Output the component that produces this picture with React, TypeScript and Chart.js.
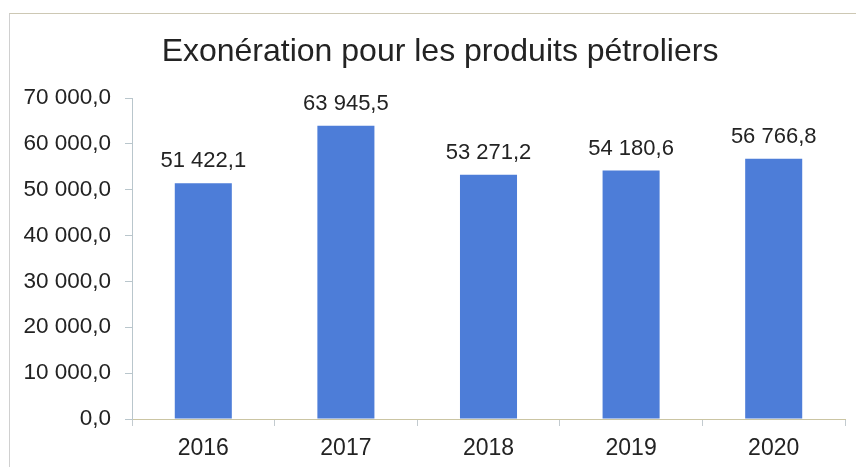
import React, { useEffect, useRef } from "react";
import { Chart, registerables } from "chart.js";

Chart.register(...registerables);

const TITLE = "Exonération pour les produits pétroliers";
const CATEGORIES = ["2016", "2017", "2018", "2019", "2020"];
const VALUES = [51422.1, 63945.5, 53271.2, 54180.6, 56766.8];
const Y_MIN = 0;
const Y_MAX = 70000;
const Y_STEP = 10000;

const FONT = "'Liberation Sans', Arial, sans-serif";
const TEXT = "#232323";
const BAR = "#4d7dd8";

function frNumber(v: number): string {
  const fixed = Math.abs(v).toFixed(1);
  const [intPart, dec] = fixed.split(".");
  const grouped = intPart.replace(/\B(?=(\d{3})+(?!\d))/g, " ");
  return (v < 0 ? "-" : "") + grouped + "," + dec;
}

const dataLabels = {
  id: "dataLabels",
  afterDatasetsDraw(chart: any) {
    const ctx = chart.ctx;
    const meta = chart.getDatasetMeta(0);
    ctx.save();
    ctx.font = `22px ${FONT}`;
    ctx.fillStyle = TEXT;
    ctx.textAlign = "center";
    ctx.textBaseline = "alphabetic";
    meta.data.forEach((el: any, i: number) => {
      ctx.fillText(frNumber(VALUES[i]), el.x, el.y - 16);
    });
    ctx.restore();
  },
};

const chartTitle = {
  id: "chartTitle",
  afterDraw(chart: any) {
    const ctx = chart.ctx;
    ctx.save();
    ctx.font = `32px ${FONT}`;
    ctx.fillStyle = TEXT;
    ctx.textAlign = "center";
    ctx.textBaseline = "alphabetic";
    ctx.fillText(TITLE, 440, 61);
    ctx.restore();
  },
};

export default function App() {
  const ref = useRef<HTMLCanvasElement | null>(null);

  useEffect(() => {
    if (!ref.current) return;
    const chart = new Chart(ref.current, {
      type: "bar",
      data: {
        labels: CATEGORIES,
        datasets: [
          {
            data: VALUES,
            backgroundColor: BAR,
            borderWidth: 0,
            barPercentage: 0.4,
            categoryPercentage: 1,
          },
        ],
      },
      options: {
        animation: false,
        responsive: false,
        layout: { padding: { left: 0, right: 11, top: 98, bottom: 0 } },
        plugins: {
          legend: { display: false },
          tooltip: { enabled: false },
          title: { display: false },
        },
        scales: {
          x: {
            grid: {
              display: true,
              drawOnChartArea: false,
              drawTicks: true,
              tickLength: 7,
              color: "#c3cbcf",
              offset: true,
            },
            border: { display: true, color: "#cbc5a3", width: 1 },
            ticks: {
              color: TEXT,
              font: { family: FONT, size: 23 },
              padding: 9,
              maxRotation: 0,
            },
            afterFit(scale: any) {
              scale.height = 48;
            },
          },
          y: {
            min: Y_MIN,
            max: Y_MAX,
            grid: {
              display: true,
              drawOnChartArea: false,
              drawTicks: true,
              tickLength: 7,
              color: "#b9c6cc",
            },
            border: { display: true, color: "#b9c6cc", width: 1 },
            ticks: {
              stepSize: Y_STEP,
              color: TEXT,
              font: { family: FONT, size: 22.5 },
              padding: 14,
              callback: (v: any) => frNumber(Number(v)),
            },
            afterFit(scale: any) {
              scale.width = 132;
            },
          },
        },
      },
      plugins: [dataLabels, chartTitle],
    });
    return () => chart.destroy();
  }, []);

  return (
    <div
      style={{
        position: "absolute",
        left: 0,
        top: 0,
        width: 856,
        height: 467,
        background: "#ffffff",
        overflow: "hidden",
      }}
    >
      <div
        style={{
          position: "absolute",
          left: 9,
          top: 13,
          width: 900,
          height: 500,
          borderTop: "1px solid #cdc8b4",
          borderLeft: "1px solid #d0d0d0",
        }}
      />
      <canvas
        ref={ref}
        width={856}
        height={467}
        style={{ position: "absolute", left: 0, top: 0, width: 856, height: 467 }}
      />
    </div>
  );
}
